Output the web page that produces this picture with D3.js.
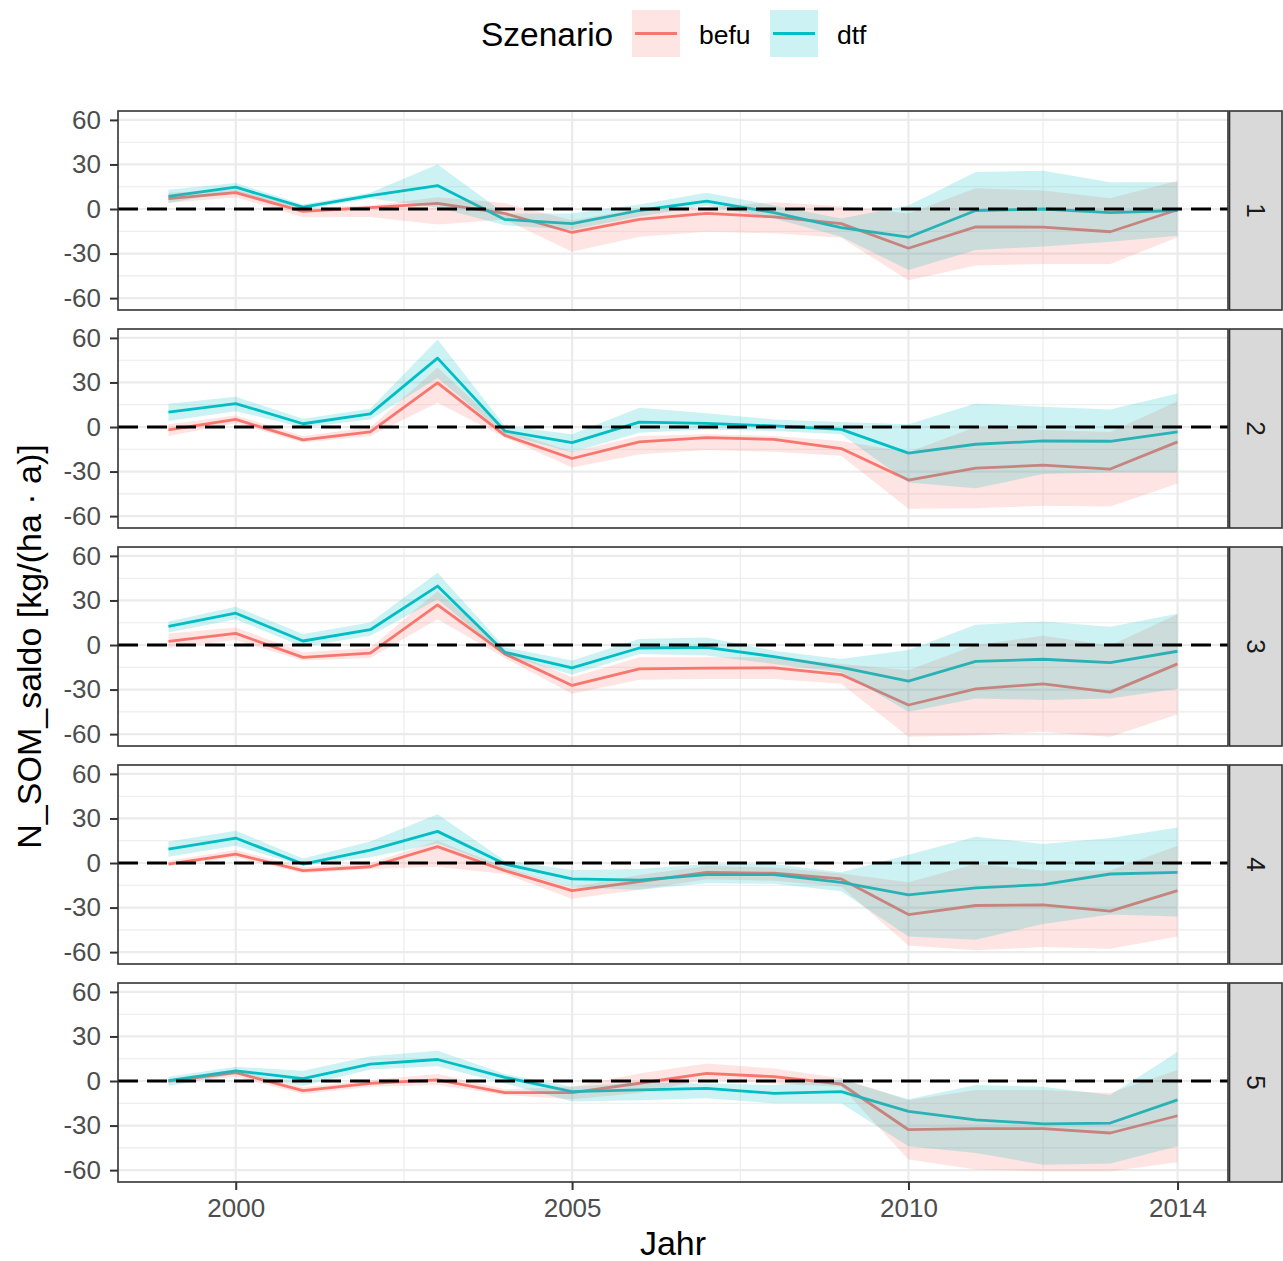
<!DOCTYPE html>
<html><head><meta charset="utf-8">
<script src="https://cdn.jsdelivr.net/npm/d3@7"></script>
<style>body{margin:0;background:#fff} svg{display:block}</style>
</head><body><svg id="c" width="1283" height="1261"></svg>
<script>
const years = [1999,2000,2001,2002,2003,2004,2005,2006,2007,2008,2009,2010,2011,2012,2013,2014];
const panels = ["1","2","3","4","5"];
const seriesNames = ["befu","dtf"];
const xTicks = [2000, 2005, 2010, 2014];
const xMinor = [2002.5, 2007.5, 2012];
const yTicks = [-60, -30, 0, 30, 60];
const yMinor = [-45, -15, 15, 45];

const befuMean = [
  [7, 11, -1.6, 1, 3.8, -3, -15.8, -7, -3, -5.3, -9.8, -26.4, -12, -12.2, -15.3, -0.5],
  [-2, 5.1, -8.7, -3.3, 29.7, -5.6, -21.2, -10, -7.1, -8.3, -14.5, -35.7, -27.7, -25.7, -28.3, -10],
  [2.5, 7.8, -8.3, -5.4, 27, -6, -27.2, -16, -15.6, -15.4, -19.9, -40.4, -29.5, -26.1, -31.7, -12.7],
  [-0.7, 6, -5.1, -2.5, 11, -5.1, -18.6, -12.5, -6.3, -6.9, -10.7, -34.7, -28.6, -28.2, -32.4, -18.6],
  [0, 5.6, -6.5, -1.6, 0.7, -7.8, -7.8, -1.5, 5.1, 2.9, -2, -32.8, -32.1, -32.1, -35, -23.4]
];
const befuLow = [
  [4, 8, -5.5, -5.3, -10.5, -7, -28.7, -18.7, -15.3, -16.4, -19.3, -48, -38, -37, -37, -19],
  [-6, 2.5, -10.5, -6, 16.3, -7, -27.2, -18.3, -15.4, -16.7, -19.4, -55, -54.7, -53, -53.6, -38],
  [-2, 3.3, -10.5, -8.7, 17.4, -8.7, -32.8, -23.4, -22.8, -22.8, -26.1, -61.8, -60.7, -58.5, -61.8, -46.7],
  [-1.8, 3.8, -6.9, -4, -2.5, -7.4, -24, -18, -11, -12, -16, -55.5, -58.8, -56.6, -57.7, -49.4],
  [-1.6, 2.9, -8.7, -3.8, -2.7, -9.4, -12.3, -8, 1.1, -1.6, -3.8, -52.9, -59.6, -60.7, -60.7, -54.7]
];
const befuHigh = [
  [11, 13, 1, 2.4, 8, 4, -7.5, 0, 1.3, 4.5, 1.8, -3, 14, 12.4, 7.3, 19],
  [1.8, 7.8, -6, -0.4, 40, -2, -16.7, -6, -4.9, -6, -9.4, -17, 0, -2, -3.3, 17.4],
  [7.8, 11.8, -4.9, -2, 36.4, -3.3, -21.7, -8.3, -8.3, -8.3, -12.7, -17, 0, 6.3, -0.4, 20.8],
  [1.6, 8.7, -2.9, -0.2, 15, -2.9, -16.3, -8, -2, -3, -7, -13, -0.7, -5, -5, 11.6],
  [1.1, 7.8, -4.2, 0.7, 4.7, -5.6, -3.8, 5, 11.8, 8.5, 1.8, -13, -6, -6, -8, 7.4]
];
const dtfMean = [
  [8.5, 14.7, 1.3, 9, 15.8, -7, -9.8, -1, 5.3, -2.5, -12.5, -19, -1, 0, -2.4, -1],
  [10, 15.8, 2.2, 8.9, 46.4, -2.7, -10.5, 3.3, 2.5, 0.7, -1.6, -17.6, -11.6, -9.4, -9.6, -3.3],
  [12.5, 21.4, 2.7, 10.3, 39.7, -4.9, -15.4, -2, -1.6, -7.8, -15, -24.3, -11, -9.6, -11.8, -4.2],
  [9.4, 16.8, -0.7, 8.7, 21.3, -0.7, -10.7, -11.5, -7.8, -7.8, -13, -21.5, -16.8, -14.5, -7.4, -6.3],
  [0.2, 6.9, 1.6, 11.4, 14.5, 2.5, -7.1, -6, -4.9, -8.3, -7.1, -20.5, -26.1, -28.8, -28.3, -12.7]
];
const dtfLow = [
  [4, 12, -0.5, 7, 1, -11, -14, -5, 2.4, -6.4, -18.7, -41, -27.6, -25.3, -22, -18],
  [4, 10.7, -0.4, 5.1, 33, -4.9, -17, -3.8, -1.6, -2.7, -4.9, -37.3, -41.3, -31.7, -30.6, -30.6],
  [8.5, 17.4, -1.1, 6.3, 30.8, -7.1, -19.9, -6, -7.1, -12.7, -18.3, -45, -36, -37, -36, -29.5],
  [4.3, 11.6, -1.8, 3.8, 13.2, -4, -16.3, -18, -13.6, -14, -19, -49.4, -51.7, -41, -34.7, -36],
  [-3.3, 4.7, -3.3, 7.8, 10, -1.6, -13.8, -13, -11.6, -15, -15, -44, -48.4, -56.3, -55.6, -44]
];
const dtfHigh = [
  [13, 17.6, 3, 11, 30, -3, -3, 3, 11, 2.4, -6.4, 2.4, 25, 25.8, 18, 18],
  [15.6, 20.3, 5.6, 12.3, 59, 0.7, -4.9, 13, 9.2, 5.1, 3.3, 1.8, 15.8, 13.6, 11.8, 22.5],
  [15.8, 25.7, 7.4, 15.2, 48.7, -1.6, -10.5, 4, 5.1, -3.8, -9.4, -3.3, 13.6, 15.8, 12.3, 21],
  [14.5, 21.7, 3.1, 14.5, 32.9, 1.6, -4.7, -4, -0.7, -0.7, -6.3, 5.6, 17.7, 12.8, 16.8, 23.9],
  [2.9, 9.6, 6.9, 16.7, 20.3, 4.7, -3.8, -1, -1.6, -2.7, 1.1, -12.3, -2.7, -3.8, -9.4, 19.6]
];

const colors = {befu: "#F8766D", dtf: "#00BFC4"};
const seriesData = {
  befu: {mean: befuMean, lo: befuLow, hi: befuHigh},
  dtf: {mean: dtfMean, lo: dtfLow, hi: dtfHigh}
};

const FONT = "'Liberation Sans', Arial, sans-serif";
const svg = d3.select("#c").style("font-family", FONT);
svg.append("rect").attr("width", 1283).attr("height", 1261).attr("fill", "#fff");

const L = 118, R = 1228, top0 = 111, ph = 199, gap = 19;
const x = d3.scaleLinear().domain([1998.25, 2014.75]).range([L, R]);

panels.forEach((p, i) => {
  const t = top0 + i * (ph + gap);
  const y = d3.scaleLinear().domain([-68, 66]).range([t + ph, t]);
  const g = svg.append("g");

  // minor grid
  g.selectAll(null).data(yMinor).join("line")
    .attr("x1", L).attr("x2", R).attr("y1", d => y(d)).attr("y2", d => y(d))
    .attr("stroke", "#EBEBEB").attr("stroke-width", 1.1);
  g.selectAll(null).data(xMinor).join("line")
    .attr("x1", d => x(d)).attr("x2", d => x(d)).attr("y1", t).attr("y2", t + ph)
    .attr("stroke", "#EBEBEB").attr("stroke-width", 1.1);
  // major grid
  g.selectAll(null).data(yTicks).join("line")
    .attr("x1", L).attr("x2", R).attr("y1", d => y(d)).attr("y2", d => y(d))
    .attr("stroke", "#EBEBEB").attr("stroke-width", 2.2);
  g.selectAll(null).data(xTicks).join("line")
    .attr("x1", d => x(d)).attr("x2", d => x(d)).attr("y1", t).attr("y2", t + ph)
    .attr("stroke", "#EBEBEB").attr("stroke-width", 2.2);

  // lines
  seriesNames.forEach(s => {
    const m = seriesData[s].mean[i];
    const line = d3.line().x((d, k) => x(years[k])).y(d => y(d));
    g.append("path").attr("d", line(m)).attr("fill", "none")
      .attr("stroke", colors[s]).attr("stroke-width", 2.8).attr("stroke-linejoin", "round");
  });
  // ribbons
  seriesNames.forEach(s => {
    const lo = seriesData[s].lo[i], hi = seriesData[s].hi[i];
    const area = d3.area().x((d, k) => x(years[k])).y0((d, k) => y(lo[k])).y1((d, k) => y(hi[k]));
    g.append("path").attr("d", area(lo)).attr("fill", colors[s]).attr("fill-opacity", 0.2);
  });
  // zero line
  g.append("line").attr("x1", L).attr("x2", R).attr("y1", y(0)).attr("y2", y(0))
    .attr("stroke", "#000").attr("stroke-width", 3).attr("stroke-dasharray", "20,9");
  // border
  g.append("rect").attr("x", L).attr("y", t).attr("width", R - L).attr("height", ph)
    .attr("fill", "none").attr("stroke", "#333333").attr("stroke-width", 1.6);
  // strip
  g.append("rect").attr("x", R + 1.5).attr("y", t).attr("width", 1282 - R - 1.5).attr("height", ph)
    .attr("fill", "#D9D9D9").attr("stroke", "#333333").attr("stroke-width", 1.6);
  g.append("text").text(p)
    .attr("transform", `translate(${(R + 1282) / 2 + 1},${t + ph / 2}) rotate(90)`)
    .attr("text-anchor", "middle").attr("dominant-baseline", "central")
    .attr("font-size", 26).attr("fill", "#1A1A1A");

  // y axis
  const ya = g.append("g").attr("transform", `translate(${L},0)`)
    .call(d3.axisLeft(y).tickValues(yTicks).tickSize(8).tickPadding(9).tickFormat(d => String(d)));
  ya.select(".domain").remove();
  ya.selectAll(".tick line").attr("stroke", "#333333").attr("stroke-width", 2);
  ya.selectAll(".tick text").attr("font-size", 26).attr("fill", "#4D4D4D").attr("font-family", FONT);

  if (i === panels.length - 1) {
    const xa = g.append("g").attr("transform", `translate(0,${t + ph})`)
      .call(d3.axisBottom(x).tickValues(xTicks).tickSize(8).tickPadding(9).tickFormat(d => String(d)));
    xa.select(".domain").remove();
    xa.selectAll(".tick line").attr("stroke", "#333333").attr("stroke-width", 2);
    xa.selectAll(".tick text").attr("font-size", 26).attr("fill", "#4D4D4D").attr("font-family", FONT);
  }
});

// axis titles
svg.append("text").text("Jahr").attr("x", (L + R) / 2).attr("y", 1255)
  .attr("text-anchor", "middle").attr("font-size", 34).attr("fill", "#000");
svg.append("text").text("N_SOM_saldo [kg/(ha \u00B7 a)]")
  .attr("transform", `translate(41,${(top0 + top0 + 4 * (ph + gap) + ph) / 2}) rotate(-90)`)
  .attr("text-anchor", "middle").attr("font-size", 34).attr("fill", "#000");

// legend
const lg = svg.append("g");
lg.append("text").text("Szenario").attr("x", 481).attr("y", 46).attr("font-size", 33.5).attr("fill", "#000");
const keyX = [632, 770], labX = [699, 837];
seriesNames.forEach((s, k) => {
  lg.append("rect").attr("x", keyX[k]).attr("y", 10).attr("width", 48).attr("height", 47)
    .attr("fill", colors[s]).attr("fill-opacity", 0.2);
  lg.append("line").attr("x1", keyX[k] + 3).attr("x2", keyX[k] + 45).attr("y1", 33.5).attr("y2", 33.5)
    .attr("stroke", colors[s]).attr("stroke-width", 2.8);
  lg.append("text").text(s).attr("x", labX[k]).attr("y", 44).attr("font-size", 26.5).attr("fill", "#000");
});
</script>
</body></html>
